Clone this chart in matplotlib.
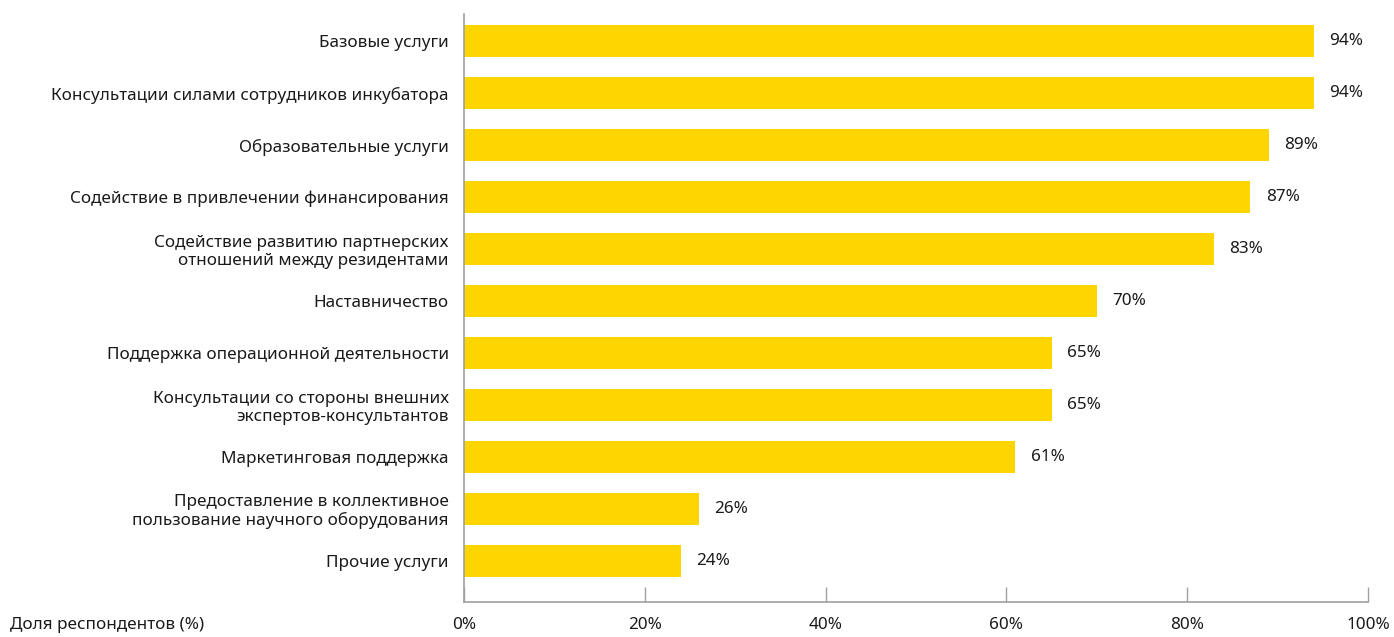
import matplotlib
matplotlib.use("Agg")
import matplotlib.pyplot as plt

categories = [
    "Базовые услуги",
    "Консультации силами сотрудников инкубатора",
    "Образовательные услуги",
    "Содействие в привлечении финансирования",
    "Содействие развитию партнерских\nотношений между резидентами",
    "Наставничество",
    "Поддержка операционной деятельности",
    "Консультации со стороны внешних\nэкспертов-консультантов",
    "Маркетинговая поддержка",
    "Предоставление в коллективное\nпользование научного оборудования",
    "Прочие услуги",
]
values = [94, 94, 89, 87, 83, 70, 65, 65, 61, 26, 24]
xticks = [0, 20, 40, 60, 80, 100]
xtick_labels = ["0%", "20%", "40%", "60%", "80%", "100%"]
axis_title = "Доля респондентов (%)"

plt.rcParams['font.family'] = ['Noto Sans', 'DejaVu Sans']
text_color = "#1a1a1a"
bar_color = "#FFD500"
spine_color = "#A0A0A0"
fs = 12.3

fig = plt.figure(figsize=(13.94, 6.37), dpi=100)
ax = fig.add_axes([464/1394, 35/637, (1368-464)/1394, (602-14)/637])

pos = list(range(len(categories)))
ax.barh(pos, values, height=0.62, color=bar_color, zorder=2)
for p, v in zip(pos, values):
    ax.annotate(f"{v}%", xy=(v, p), xytext=(11, 0), textcoords="offset points",
                va="center", ha="left", fontsize=fs, color=text_color)

ax.set_ylim(10.79, -0.52)
ax.set_xlim(0, 100)
ax.set_yticks(pos)
ax.set_yticklabels(categories, fontsize=fs, color=text_color, ha="right",
                   multialignment="right", linespacing=1.15)
ax.tick_params(axis="y", length=0, pad=11)
ax.set_xticks(xticks)
ax.set_xticklabels(xtick_labels, fontsize=fs, color=text_color)
ax.tick_params(axis="x", direction="in", length=11, width=1, color=spine_color, pad=11)

for s in ["top", "right"]:
    ax.spines[s].set_visible(False)
for s in ["left", "bottom"]:
    ax.spines[s].set_color(spine_color)
    ax.spines[s].set_linewidth(1.2)

fig.text(10/1394, 1 - 625/637, axis_title, fontsize=fs, color=text_color,
         ha="left", va="center")

fig.savefig("out.png", dpi=100)
